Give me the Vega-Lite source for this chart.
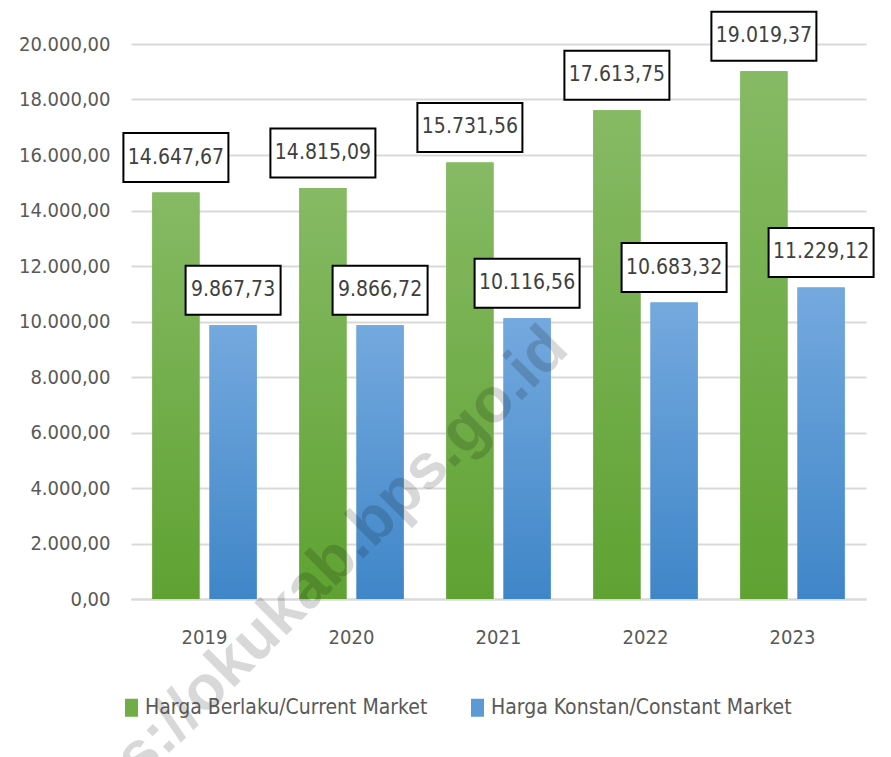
{
  "$schema": "https://vega.github.io/schema/vega-lite/v6.json",
  "width": 735,
  "height": 555,
  "autosize": {"type": "none"},
  "padding": {"left": 131, "top": 44, "right": 25, "bottom": 158},
  "background": "white",
  "config": {
    "locale": {"number": {"decimal": ",", "thousands": ".", "grouping": [3], "currency": ["", ""]}},
    "font": "DejaVu Sans Condensed, sans-serif",
    "view": {"stroke": null}
  },
  "data": {
    "values": [
      {"year": "2019", "series": "Harga Berlaku/Current Market", "value": 14647.67},
      {"year": "2019", "series": "Harga Konstan/Constant Market", "value": 9867.73},
      {"year": "2020", "series": "Harga Berlaku/Current Market", "value": 14815.09},
      {"year": "2020", "series": "Harga Konstan/Constant Market", "value": 9866.72},
      {"year": "2021", "series": "Harga Berlaku/Current Market", "value": 15731.56},
      {"year": "2021", "series": "Harga Konstan/Constant Market", "value": 10116.56},
      {"year": "2022", "series": "Harga Berlaku/Current Market", "value": 17613.75},
      {"year": "2022", "series": "Harga Konstan/Constant Market", "value": 10683.32},
      {"year": "2023", "series": "Harga Berlaku/Current Market", "value": 19019.37},
      {"year": "2023", "series": "Harga Konstan/Constant Market", "value": 11229.12}
    ]
  },
  "encoding": {
    "x": {
      "field": "year", "type": "nominal", "title": null,
      "scale": {"paddingInner": 0.29, "paddingOuter": 0.145},
      "axis": {
        "labelAngle": 0, "ticks": false, "domain": true, "domainColor": "#d9d9d9", "domainWidth": 2,
        "labelFontSize": 20, "labelColor": "#595959", "labelPadding": 28,
        "labelFont": "DejaVu Sans Condensed, sans-serif"
      }
    },
    "y": {
      "field": "value", "type": "quantitative", "title": null,
      "scale": {"domain": [0, 20000], "nice": false},
      "axis": {
        "values": [0, 2000, 4000, 6000, 8000, 10000, 12000, 14000, 16000, 18000, 20000],
        "format": ",.2f", "domain": false, "ticks": false,
        "grid": true, "gridColor": "#d9d9d9", "gridWidth": 2,
        "labelFontSize": 20, "labelColor": "#595959", "labelPadding": 21,
        "labelFont": "DejaVu Sans Condensed, sans-serif"
      }
    }
  },
  "layer": [
    {
      "mark": {"type": "bar"},
      "encoding": {
        "xOffset": {"field": "series", "type": "nominal", "sort": ["Harga Berlaku/Current Market", "Harga Konstan/Constant Market"], "scale": {"paddingInner": 0.175, "paddingOuter": 0}},
        "color": {
          "field": "series", "type": "nominal",
          "scale": {"domain": ["Harga Berlaku/Current Market", "Harga Konstan/Constant Market"], "range": ["#70ad47", "#5b9bd5"]},
          "legend": {
            "title": null, "orient": "none", "direction": "horizontal",
            "legendX": -10, "legendY": 653,
            "symbolType": "M-0.722,-1H0.722V1H-0.722Z", "symbolSize": 324, "symbolStrokeWidth": 0,
            "labelFontSize": 21, "labelColor": "#595959", "labelOffset": 3, "columnPadding": 39,
            "labelLimit": 400,
            "labelFont": "DejaVu Sans Condensed, sans-serif"
          }
        }
      }
    },
    {
      "transform": [{"filter": "datum.series === 'Harga Berlaku/Current Market'"}],
      "mark": {"type": "bar", "color": {"gradient": "linear", "x1": 0, "y1": 0, "x2": 0, "y2": 1, "stops": [{"offset": 0, "color": "#86ba64"}, {"offset": 1, "color": "#5fa232"}]}},
      "encoding": {
        "xOffset": {"field": "series", "type": "nominal"}
      }
    },
    {
      "transform": [{"filter": "datum.series === 'Harga Konstan/Constant Market'"}],
      "mark": {"type": "bar", "color": {"gradient": "linear", "x1": 0, "y1": 0, "x2": 0, "y2": 1, "stops": [{"offset": 0, "color": "#74a9de"}, {"offset": 1, "color": "#3f86c8"}]}},
      "encoding": {
        "xOffset": {"field": "series", "type": "nominal"}
      }
    },
    {
      "transform": [{"filter": "datum.series === 'Harga Konstan/Constant Market' && datum.year === '2021'"}],
      "mark": {"type": "text", "text": "https://okukab.bps.go.id", "angle": 315, "align": "right", "baseline": "middle", "dx": 83, "fontSize": 63, "fontWeight": "bold", "font": "Liberation Sans, sans-serif", "color": "#000000", "opacity": 0.15},
      "encoding": {
        "y": {"datum": 7300, "type": "quantitative"}
      }
    },
    {
      "transform": [{"filter": "datum.value >= 10000"}],
      "mark": {"type": "point", "shape": "M-1,-1.133H1V-0.2H-1Z", "size": 11025, "filled": true, "fill": "white", "stroke": "black", "strokeWidth": 2, "opacity": 1},
      "encoding": {
        "xOffset": {"field": "series", "type": "nominal"}
      }
    },
    {
      "transform": [{"filter": "datum.value < 10000"}],
      "mark": {"type": "point", "shape": "M-1,-1.253H1V-0.221H-1Z", "size": 9025, "filled": true, "fill": "white", "stroke": "black", "strokeWidth": 2, "opacity": 1},
      "encoding": {
        "xOffset": {"field": "series", "type": "nominal"}
      }
    },
    {
      "mark": {"type": "text", "dy": -35, "fontSize": 21, "color": "#404040", "baseline": "middle", "align": "center"},
      "encoding": {
        "xOffset": {"field": "series", "type": "nominal"},
        "text": {"field": "value", "type": "quantitative", "format": ",.2f"}
      }
    }
  ]
}
